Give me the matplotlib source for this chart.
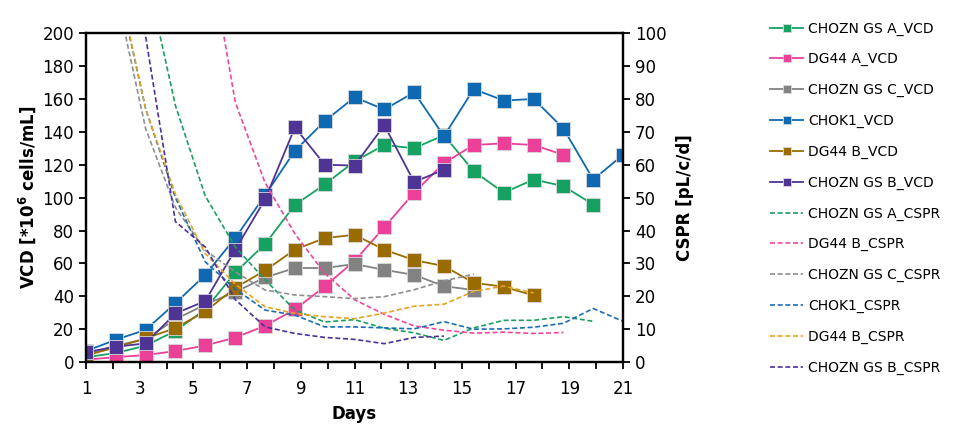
import numpy as np
import matplotlib
matplotlib.use("Agg")
import matplotlib.pyplot as plt

nan = np.nan

# sampling days (x values)
days = [1, 2.11, 3.22, 4.33, 5.44, 6.56, 7.67, 8.78, 9.89, 11,
        12.11, 13.22, 14.33, 15.44, 16.56, 17.67, 18.78, 19.89, 21]

# VCD [*10^6 cells/mL]
vcd_chozn_a = [3, 5.5, 10, 19, 32, 54.5, 71.8, 95.6, 108, 122, 132, 130, 138, 116, 103, 111, 107, 95.8]
vcd_dg44_a = [1.5, 3, 4.3, 6.7, 10.1, 14.9, 22.1, 32, 46, 61.5, 82, 103, 121, 132, 133, 132, 126]
vcd_chozn_c = [5, 10, 14, 26, 35, 42.6, 51.5, 57.2, 57.2, 59.6, 56.1, 53, 46.2, 43.8]
vcd_chok1 = [6.7, 13.6, 19.6, 35.8, 53, 75.5, 101.5, 128.5, 146.5, 161, 153.6, 164, 137.4, 166, 159, 160, 142, 111, 126]
vcd_dg44_b = [4, 9, 14.4, 20.7, 30.8, 45.2, 55.7, 68.4, 75.4, 77.4, 68.3, 62, 58.4, 48.2, 45.8, 40.5]
vcd_chozn_b = [6, 9.3, 11.4, 29.6, 37.1, 68.4, 99, 142.7, 120, 119.5, 144, 109.5, 117]

# CSPR [pL/c/d]
cspr_chozn_a = [nan, 200, 119, 78, 50.5, 35, 25, 15.8, 12.2, 12.9, 10.3, 8.9, 6.6, 10.4, 12.7, 12.7, 13.8, 12.4]
cspr_dg44_b_pink = [nan, nan, nan, 220, 132, 79, 54.5, 39, 27, 19, 14.5, 11, 9.7, 8.8, 9.1, 8.7, 9.0]
cspr_chozn_c = [nan, 113, 71, 47, 34, 27.4, 21.9, 20.4, 19.9, 19.3, 19.9, 22, 24.7, 26.7]
cspr_chok1 = [nan, 118, 77, 50, 30.5, 22.2, 15.8, 14.3, 10.7, 10.7, 10.4, 10.1, 12.3, 10, 10.1, 10.6, 11.8, 16.3, 12.4]
cspr_dg44_b = [nan, 119, 77, 51, 33, 23.7, 16.8, 14.8, 13.8, 13.2, 14.9, 17, 17.6, 21.5, 23.1, 21]
cspr_chozn_b = [nan, 150, 99, 42.7, 35, 19, 10.7, 8.7, 7.5, 6.9, 5.6, 7.5, 7.9]

vcd_series = [
    ("CHOZN GS A_VCD", vcd_chozn_a, "#16a062"),
    ("DG44 A_VCD", vcd_dg44_a, "#ec3f97"),
    ("CHOZN GS C_VCD", vcd_chozn_c, "#828282"),
    ("CHOK1_VCD", vcd_chok1, "#0f69b2"),
    ("DG44 B_VCD", vcd_dg44_b, "#9a6c00"),
    ("CHOZN GS B_VCD", vcd_chozn_b, "#4e3495"),
]
cspr_series = [
    ("CHOZN GS A_CSPR", cspr_chozn_a, "#1b9e62"),
    ("DG44 B_CSPR", cspr_dg44_b_pink, "#f0479c"),
    ("CHOZN GS C_CSPR", cspr_chozn_c, "#8e8e8e"),
    ("CHOK1_CSPR", cspr_chok1, "#1a6db5"),
    ("DG44 B_CSPR", cspr_dg44_b, "#e5a423"),
    ("CHOZN GS B_CSPR", cspr_chozn_b, "#4b319a"),
]

fig = plt.figure(figsize=(9.6, 4.25), dpi=100)
ax = fig.add_axes([0.0896, 0.148, 0.5594, 0.774])
ax2 = ax.twinx()

handles = []
for name, vals, col in vcd_series:
    h, = ax.plot(days[:len(vals)], vals, color=col, lw=1.3, marker="s",
                 ms=10, mec="#d8d8d8", mew=0.6, label=name)
    handles.append(h)

for name, vals, col in cspr_series:
    h, = ax2.plot(days[:len(vals)], vals, color=col, lw=1.2,
                  linestyle=(0, (3, 1.6)), label=name)
    handles.append(h)

ax.set_xlim(1, 21)
ax.set_ylim(0, 200)
ax2.set_ylim(0, 100)
ax.set_xticks(range(1, 22))
ax.set_xticklabels([str(d) if d % 2 == 1 else "" for d in range(1, 22)])
ax.set_yticks(range(0, 201, 20))
ax2.set_yticks(range(0, 101, 10))

for a in (ax, ax2):
    for s in a.spines.values():
        s.set_linewidth(1.6)
        s.set_color("black")
    a.tick_params(length=5, width=1.3, labelsize=12, direction="out", colors="black")
ax.tick_params(axis="x", pad=8)

ax.set_xlabel("Days", fontsize=12, fontweight="bold", labelpad=5)
ax.set_ylabel("VCD [*10$^{\\mathbf{6}}$ cells/mL]", fontsize=12, fontweight="bold", labelpad=3)
ax2.set_ylabel("CSPR [pL/c/d]", fontsize=12, fontweight="bold", labelpad=7)

fig.legend(handles=handles, loc="center left", bbox_to_anchor=(0.802, 0.534),
           frameon=False, fontsize=10, handlelength=2.4, handletextpad=0.35,
           labelspacing=1.2, markerscale=0.55, borderpad=0, borderaxespad=0)

fig.savefig("out.png", dpi=100)
